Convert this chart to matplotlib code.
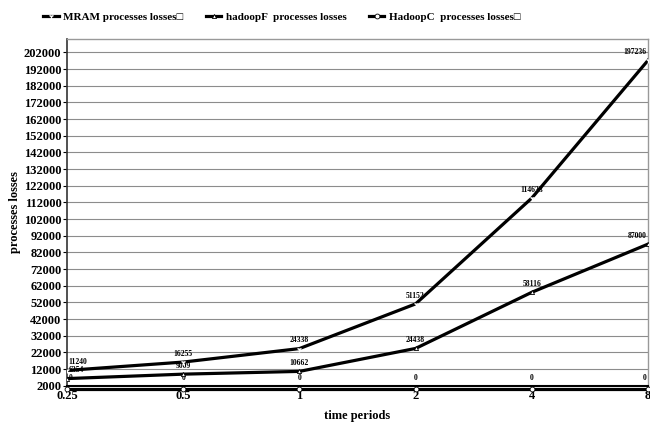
import numpy as np
import matplotlib.pyplot as plt

# data
periods = ['0.25', '0.5', '1', '2', '4', '8']
mram = [11240, 16255, 24338, 51152, 114633, 197236]
hadoop_f = [6354, 9009, 10662, 24438, 58116, 87000]
hadoop_c = [0, 0, 0, 0, 0, 0]
y_ticks = list(range(2000, 202001, 10000))

plt.rcParams['font.family'] = ['Liberation Serif', 'DejaVu Serif']
plt.rcParams['font.weight'] = 'bold'

fig = plt.figure(figsize=(6.5, 4.24), dpi=100)
ax = fig.add_axes([0.103, 0.09, 0.894, 0.818])

x = np.arange(len(periods))

ax.plot(x, mram, '-', color='black', lw=2.3, marker='1', ms=4, mec='white',
        label='MRAM processes losses\u25a1', zorder=4)
ax.plot(x, hadoop_f, '-', color='black', lw=2.3, marker='^', ms=3, mfc='white', mec='black', mew=0.6,
        label='hadoopF  processes losses', zorder=4)
ax.plot(x, hadoop_c, '-', color='black', lw=2.3, marker='o', ms=3.5, mfc='white', mec='black', mew=0.6,
        label='HadoopC  processes losses\u25a1', zorder=5, clip_on=False)


def label_points(series, base=None):
    n = len(series)
    for i, v in enumerate(series):
        ha = 'center'
        dx = 0
        if i == 0:
            ha, dx = 'left', 1
        elif i == n - 1:
            ha, dx = 'right', -1
        y = v if base is None else base
        ax.annotate(str(v), (x[i], y), xytext=(dx, 3), textcoords='offset points',
                    ha=ha, va='bottom', fontsize=5.5, fontweight='bold')


label_points(mram)
label_points(hadoop_f)
label_points(hadoop_c, base=2000)

ax.set_xlim(0, len(periods) - 1)
ax.set_ylim(2000, 210000)
ax.set_xticks(x)
ax.set_xticklabels(periods)
ax.set_yticks(y_ticks)
ax.tick_params(axis='y', length=3, width=0.8, labelsize=9, pad=1)
ax.tick_params(axis='x', length=0, labelsize=9, pad=3)
for lab in ax.get_xticklabels() + ax.get_yticklabels():
    lab.set_fontweight('bold')

ax.yaxis.grid(True, color='#8c8c8c', lw=0.8)
ax.set_axisbelow(True)
for side in ('top', 'right'):
    ax.spines[side].set_color('#999999')
    ax.spines[side].set_linewidth(1.0)
ax.spines['left'].set_color('#333333')
ax.spines['left'].set_linewidth(1.2)
ax.spines['bottom'].set_color('black')
ax.spines['bottom'].set_linewidth(1.5)

ax.set_xlabel('time periods', fontsize=9, fontweight='bold', labelpad=6)
ax.set_ylabel('processes losses', fontsize=9, fontweight='bold', labelpad=2)

ax.legend(loc='lower center', bbox_to_anchor=(0.37, 1.02), ncol=3, frameon=False,
          handlelength=1.4, handletextpad=0.4, columnspacing=2.0,
          prop={'weight': 'bold', 'size': 8})

fig.savefig('out.png', dpi=100)
